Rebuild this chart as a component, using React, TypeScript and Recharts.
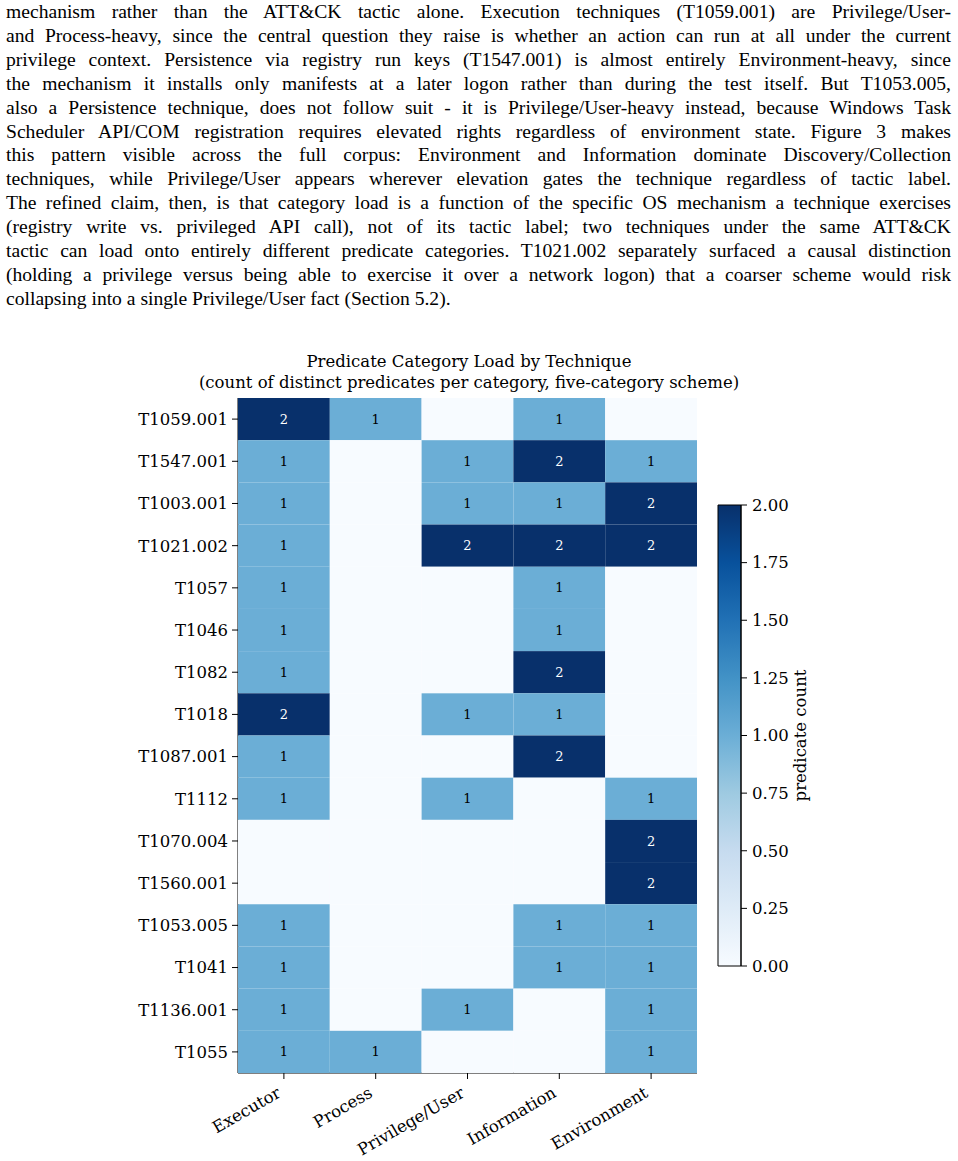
import React from 'react';
import {
  ScatterChart, Scatter, XAxis, YAxis, BarChart, Bar,
} from 'recharts';

const techniques = [
  'T1059.001', 'T1547.001', 'T1003.001', 'T1021.002', 'T1057', 'T1046', 'T1082', 'T1018',
  'T1087.001', 'T1112', 'T1070.004', 'T1560.001', 'T1053.005', 'T1041', 'T1136.001', 'T1055',
];
const categories = ['Executor', 'Process', 'Privilege/User', 'Information', 'Environment'];

// predicate counts per category, one value per technique (same order as techniques)
const executorCounts = [2, 1, 1, 1, 1, 1, 1, 2, 1, 1, 0, 0, 1, 1, 1, 1];
const processCounts = [1, 0, 0, 0, 0, 0, 0, 0, 0, 0, 0, 0, 0, 0, 0, 1];
const privilegeCounts = [0, 1, 1, 2, 0, 0, 0, 1, 0, 1, 0, 0, 0, 0, 1, 0];
const informationCounts = [1, 2, 1, 2, 1, 1, 2, 1, 2, 0, 0, 0, 1, 1, 0, 0];
const environmentCounts = [0, 1, 2, 2, 0, 0, 0, 0, 0, 1, 2, 2, 1, 1, 1, 1];

const colorbarTicks = [0, 0.25, 0.5, 0.75, 1, 1.25, 1.5, 1.75, 2];

const paragraphLines = [
  'mechanism rather than the ATT&CK tactic alone.  Execution techniques (T1059.001) are Privilege/User-',
  'and Process-heavy, since the central question they raise is whether an action can run at all under the current',
  'privilege context. Persistence via registry run keys (T1547.001) is almost entirely Environment-heavy, since',
  'the mechanism it installs only manifests at a later logon rather than during the test itself. But T1053.005,',
  'also a Persistence technique, does not follow suit - it is Privilege/User-heavy instead, because Windows Task',
  'Scheduler API/COM registration requires elevated rights regardless of environment state.  Figure 3 makes',
  'this pattern visible across the full corpus:  Environment and Information dominate Discovery/Collection',
  'techniques, while Privilege/User appears wherever elevation gates the technique regardless of tactic label.',
  'The refined claim, then, is that category load is a function of the specific OS mechanism a technique exercises',
  '(registry write vs.  privileged API call), not of its tactic label; two techniques under the same ATT&CK',
  'tactic can load onto entirely different predicate categories. T1021.002 separately surfaced a causal distinction',
  '(holding a privilege versus being able to exercise it over a network logon) that a coarser scheme would risk',
  'collapsing into a single Privilege/User fact (Section 5.2).',
];

const BLUES = ['#f7fbff', '#deebf7', '#c6dbef', '#9ecae1', '#6baed6', '#4292c6', '#2171b5', '#08519c', '#08306b'];
const MAX_COUNT = 2;
const FONT = '"DejaVu Serif", serif';

const PLOT_W = 459;
const PLOT_H = 675;
const CELL_W = PLOT_W / categories.length;
const CELL_H = PLOT_H / techniques.length;

function hexToRgb(h: string) {
  return [1, 3, 5].map((i) => parseInt(h.slice(i, i + 2), 16));
}

function bluesColor(v: number) {
  const t = Math.max(0, Math.min(1, v / MAX_COUNT)) * (BLUES.length - 1);
  const i = Math.min(Math.floor(t), BLUES.length - 2);
  const f = t - i;
  const a = hexToRgb(BLUES[i]);
  const b = hexToRgb(BLUES[i + 1]);
  const c = a.map((x, k) => Math.round(x + (b[k] - x) * f));
  return `rgb(${c[0]},${c[1]},${c[2]})`;
}

const allCounts = [executorCounts, processCounts, privilegeCounts, informationCounts, environmentCounts];
const cells = techniques.flatMap((_, row) =>
  categories.map((__, col) => ({ col, row, count: allCounts[col][row] }))
);

function HeatCell(props: any) {
  const { cx, cy, payload } = props;
  if (cx == null || cy == null) return null;
  const v = payload.count;
  return (
    <g>
      <rect x={cx - CELL_W / 2} y={cy - CELL_H / 2} width={CELL_W} height={CELL_H} fill={bluesColor(v)} />
      {v > 0 && (
        <text x={cx} y={cy} dy="0.35em" textAnchor="middle" fontSize={13} fontFamily={FONT}
          fill={v / MAX_COUNT > 0.6 ? '#ffffff' : '#000000'}>
          {v}
        </text>
      )}
    </g>
  );
}

// rotated 30deg, right-aligned so the label ends just under its tick
function CategoryTick(props: any) {
  const { x, y, payload } = props;
  return (
    <g transform={`translate(${x - 2},${y + 15})`}>
      <text transform="rotate(-30)" textAnchor="end" fontSize={16.5} fontFamily={FONT} fill="#000">
        {categories[payload.value]}
      </text>
    </g>
  );
}

export default function App() {
  return (
    <div style={{ position: 'absolute', left: 0, top: 0, width: 958, height: 1161, background: '#fff' }}>
      <div style={{ position: 'absolute', left: 6, top: 0, width: 945, fontFamily: '"Liberation Serif", serif', fontSize: 19.6, lineHeight: '23.9px', color: '#000' }}>
        {paragraphLines.map((line, i) => (
          <div key={i} style={{ textAlign: 'justify', textAlignLast: i === paragraphLines.length - 1 ? 'left' : 'justify' }}>
            {line}
          </div>
        ))}
      </div>

      <div style={{ position: 'absolute', left: 0, width: 938, top: 351, textAlign: 'center', fontFamily: FONT, fontSize: 16.5, lineHeight: '21px', color: '#000' }}>
        <div>Predicate Category Load by Technique</div>
        <div>(count of distinct predicates per category, five-category scheme)</div>
      </div>

      <div style={{ position: 'absolute', left: 0, top: 340 }}>
        <ScatterChart width={958} height={821} margin={{ top: 58, right: 261, bottom: 8, left: 138 }}>
          <XAxis type="number" dataKey="col" domain={[-0.5, 4.5]} ticks={[0, 1, 2, 3, 4]} interval={0}
            allowDataOverflow height={80} tick={<CategoryTick />} tickSize={6}
            axisLine={{ stroke: '#000' }} tickLine={{ stroke: '#000' }} />
          <XAxis xAxisId="top" orientation="top" type="number" domain={[-0.5, 4.5]} height={0}
            tick={false} tickLine={false} axisLine={{ stroke: '#000' }} />
          <YAxis type="number" dataKey="row" domain={[-0.5, 15.5]} reversed allowDataOverflow
            ticks={techniques.map((_, i) => i)} interval={0} width={100} tickSize={6} tickMargin={4}
            tickFormatter={(i: number) => techniques[i]}
            tick={{ fontSize: 16.5, fontFamily: FONT, fill: '#000' }}
            axisLine={{ stroke: '#000' }} tickLine={{ stroke: '#000' }} />
          <YAxis yAxisId="right" orientation="right" type="number" domain={[-0.5, 15.5]} width={0}
            tick={false} tickLine={false} axisLine={{ stroke: '#000' }} />
          <Scatter data={cells} shape={<HeatCell />} isAnimationActive={false} />
        </ScatterChart>
      </div>

      <div style={{ position: 'absolute', left: 700, top: 480 }}>
        <BarChart width={170} height={520} data={[{ name: 'cb', value: MAX_COUNT }]}
          margin={{ top: 25, right: 11, bottom: 34, left: 18 }} barCategoryGap={0} barGap={0}>
          <defs>
            <linearGradient id="bluesGrad" x1="0" y1="1" x2="0" y2="0">
              {BLUES.map((c, i) => (
                <stop key={c} offset={`${(i / (BLUES.length - 1)) * 100}%`} stopColor={c} />
              ))}
            </linearGradient>
          </defs>
          <XAxis dataKey="name" hide />
          <YAxis orientation="right" type="number" domain={[0, MAX_COUNT]} ticks={colorbarTicks} interval={0}
            width={118} tickSize={6} tickMargin={5}
            tickFormatter={(v: number) => v.toFixed(2)}
            tick={{ fontSize: 16.5, fontFamily: FONT, fill: '#000', textAnchor: 'start' }}
            axisLine={{ stroke: '#000' }} tickLine={{ stroke: '#000' }}
            label={{ value: 'predicate count', angle: -90, position: 'center', fontSize: 16.5, fontFamily: FONT, fill: '#000' }} />
          <Bar dataKey="value" fill="url(#bluesGrad)" stroke="#000" strokeWidth={1} isAnimationActive={false} />
        </BarChart>
      </div>
    </div>
  );
}
